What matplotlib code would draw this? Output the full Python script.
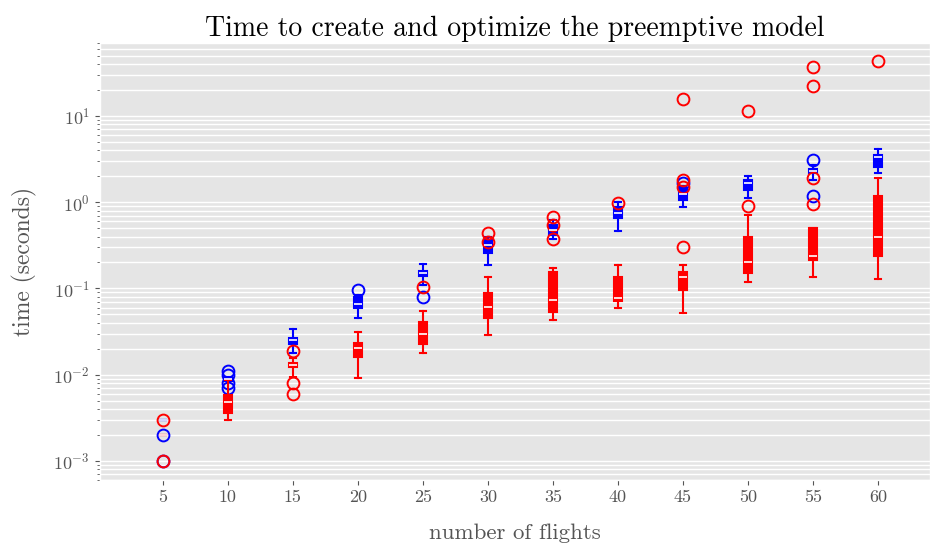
import numpy as np
import matplotlib
matplotlib.use("Agg")
import matplotlib.pyplot as plt

plt.style.use("ggplot")
plt.rcParams.update({
    "font.family": "serif",
    "font.serif": ["cmr10"],
    "mathtext.fontset": "cm",
    "axes.formatter.use_mathtext": True,
    "axes.unicode_minus": False,
})

# -- DATA ---------------------------------------------------------------------
flights = [5, 10, 15, 20, 25, 30, 35, 40, 45, 50, 55, 60]

blue_lo = [0.003, 0.0085, 0.018, 0.045, 0.11, 0.186, 0.37, 0.46, 0.875, 1.11, 1.8, 2.17]
blue_q1 = [0.003, 0.0085, 0.023, 0.059, 0.139, 0.256, 0.42, 0.652, 1.05, 1.38, 2.2, 2.55]
blue_med = [0.003, 0.009, 0.025, 0.066, 0.15, 0.317, 0.47, 0.745, 1.24, 1.66, 2.3, 3.3]
blue_q3 = [0.003, 0.0095, 0.0264, 0.079, 0.158, 0.362, 0.54, 0.875, 1.45, 1.8, 2.45, 3.5]
blue_hi = [0.003, 0.0095, 0.0336, 0.085, 0.19, 0.40, 0.62, 1.0, 1.55, 2.0, 2.7, 4.1]
blue_fliers = [[0.002, 0.001], [0.007, 0.008, 0.010, 0.011], [], [0.095], [0.08],
               [], [], [], [1.66], [], [3.07, 1.17], []]

red_lo = [0.002, 0.003, 0.0093, 0.0091, 0.018, 0.029, 0.043, 0.059, 0.0515, 0.118, 0.135, 0.128]
red_q1 = [0.002, 0.0036, 0.0122, 0.0159, 0.023, 0.046, 0.053, 0.071, 0.095, 0.15, 0.212, 0.236]
red_med = [0.002, 0.0048, 0.013, 0.0202, 0.030, 0.0605, 0.073, 0.077, 0.135, 0.2, 0.236, 0.39]
red_q3 = [0.002, 0.0058, 0.0136, 0.0231, 0.0405, 0.088, 0.154, 0.135, 0.154, 0.39, 0.5, 1.17]
red_hi = [0.002, 0.0088, 0.0155, 0.031, 0.0544, 0.135, 0.171, 0.186, 0.186, 0.71, 0.5, 1.9]
red_fliers = [[0.001, 0.003], [], [0.019, 0.008, 0.006], [], [0.103], [0.437, 0.343],
              [0.67, 0.54, 0.372], [0.97], [15.7, 1.8, 1.49, 0.30], [11.4, 0.9],
              [36.8, 22.2, 1.9, 0.95], [43.3]]


def make_stats(lo, q1, med, q3, hi, fl):
    return [dict(whislo=a, q1=b, med=c, q3=d, whishi=e, fliers=f)
            for a, b, c, d, e, f in zip(lo, q1, med, q3, hi, fl)]


def draw(ax, stats, col):
    ax.bxp(stats, positions=flights, widths=0.6, patch_artist=True,
           boxprops=dict(facecolor=col, edgecolor=col, linewidth=1.5),
           medianprops=dict(color="white", linewidth=1.2),
           whiskerprops=dict(color=col, linewidth=1.5),
           capprops=dict(color=col, linewidth=1.5),
           flierprops=dict(marker="o", markerfacecolor="none", markeredgecolor=col,
                           markersize=8.5, markeredgewidth=1.4),
           capwidths=0.45)


fig = plt.figure(figsize=(9.31, 5.45), dpi=100)
ax = fig.add_axes([0.107, 0.119, 0.892, 0.804])

draw(ax, make_stats(blue_lo, blue_q1, blue_med, blue_q3, blue_hi, blue_fliers), "blue")
draw(ax, make_stats(red_lo, red_q1, red_med, red_q3, red_hi, red_fliers), "red")

ax.set_yscale("log")
ax.set_ylim(6e-4, 72)
ax.set_xlim(0.15, 64)
ax.set_xticks(flights)
ax.set_xticklabels([str(f) for f in flights])
ax.grid(False, axis="x")
ax.grid(True, axis="y", which="both", color="white", linewidth=1.0)
ax.tick_params(axis="both", labelsize=13, colors="#555555")
ax.tick_params(axis="y", which="minor", colors="#555555")

ax.set_xlabel("number of flights", fontsize=16.5, color="#555555", labelpad=13)
ax.set_ylabel("time (seconds)", fontsize=17, color="#555555", labelpad=12)
ax.set_title("Time to create and optimize the preemptive model", fontsize=20,
             color="black", pad=4)

fig.savefig("out.png", dpi=100)
